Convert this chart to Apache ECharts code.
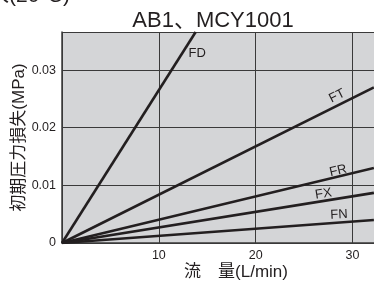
<!DOCTYPE html>
<html>
<head>
<meta charset="utf-8">
<script src="https://cdn.jsdelivr.net/npm/echarts@6/dist/echarts.min.js"></script>
<style>
  html, body { margin: 0; padding: 0; background: #fff; }
  #chart { width: 374px; height: 282px; }
</style>
</head>
<body>
<div id="chart"></div>
<script>
// 読み取った値 (流量 L/min, 初期圧力損失 MPa)
const seriesNames = ['FD', 'FT', 'FR', 'FX', 'FN']
const flowPoints = [
  [0, 13.8],
  [0, 32.2],
  [0, 32.2],
  [0, 32.2],
  [0, 32.2]
]
const lossPoints = [
  [0, 0.0366],
  [0, 0.027],
  [0, 0.013],
  [0, 0.0087],
  [0, 0.004]
]
const yTicks = [0, 0.01, 0.02, 0.03]
const xTicks = [10, 20, 30]

// ラベルの位置 (データ座標) と角度
const labelAt = {
  FD: { coord: [13.95, 0.0329], rotate: 0 },
  FT: { coord: [28.4, 0.0255], rotate: 27 },
  FR: { coord: [28.5, 0.0125], rotate: 13 },
  FX: { coord: [27.0, 0.0085], rotate: 9 },
  FN: { coord: [28.6, 0.0049], rotate: 3 }
}

const font = '"Liberation Sans", Arial, "Noto Sans CJK JP", sans-serif'
const ink = '#231f20'
const gridColor = '#3a3a3a'

const chart = echarts.init(document.getElementById('chart'))

const series = seriesNames.map((name, i) => ({
  name,
  type: 'line',
  data: flowPoints[i].map((x, j) => [x, lossPoints[i][j]]),
  symbol: 'none',
  lineStyle: { color: ink, width: 2.6 },
  clip: true,
  silent: true,
  animation: false,
  markPoint: {
    symbol: 'circle',
    symbolSize: 0,
    silent: true,
    animation: false,
    label: {
      show: true,
      position: 'inside',
      formatter: name,
      rotate: labelAt[name].rotate,
      color: ink,
      fontFamily: font,
      fontSize: 13
    },
    data: [{ coord: labelAt[name].coord }]
  }
}))

chart.setOption({
  animation: false,
  textStyle: { fontFamily: font },
  graphic: [
    {
      type: 'text',
      left: -12,
      top: -14,
      style: { text: '水(20°C)', font: '21px ' + font, fill: ink }
    }
  ],
  title: {
    text: 'AB1、MCY1001',
    left: 208,
    top: 5,
    textAlign: 'center',
    textStyle: { fontFamily: font, fontSize: 22, fontWeight: 'normal', color: ink }
  },
  grid: {
    left: 62,
    right: -27,
    top: 32,
    bottom: 39,
    outerBoundsMode: 'none',
    containLabel: false,
    show: true,
    backgroundColor: '#d4d5d7',
    borderWidth: 0
  },
  xAxis: {
    type: 'value',
    min: 0,
    max: 35,
    interval: 10,
    name: '流　量(L/min)',
    nameLocation: 'middle',
    nameGap: 21,
    nameMoveOverlap: false,
    nameTextStyle: { fontFamily: font, fontSize: 17, color: ink, padding: [0, 0, 0, 9] },
    axisLine: { show: true, lineStyle: { color: gridColor, width: 1.5 } },
    axisTick: { show: false },
    axisLabel: {
      margin: 6,
      fontSize: 12.5,
      color: ink,
      formatter: v => (xTicks.includes(v) ? String(v) : '')
    },
    splitLine: { show: true, lineStyle: { color: gridColor, width: 1 } }
  },
  yAxis: {
    type: 'value',
    min: 0,
    max: 0.0366,
    interval: 0.01,
    name: '初期圧力損失(MPa)',
    nameLocation: 'middle',
    nameGap: 34,
    nameRotate: 90,
    nameMoveOverlap: false,
    nameTextStyle: { fontFamily: font, fontSize: 17, color: ink },
    axisLine: { show: true, lineStyle: { color: gridColor, width: 1.5 } },
    axisTick: { show: false },
    axisLabel: {
      margin: 6,
      fontSize: 12.5,
      color: ink,
      showMaxLabel: false,
      formatter: v => {
        const t = yTicks.find(k => Math.abs(k - v) < 1e-9)
        return t === undefined ? '' : (t === 0 ? '0' : t.toFixed(2))
      }
    },
    splitLine: { show: true, lineStyle: { color: gridColor, width: 1 } }
  },
  series
})
</script>
</body>
</html>
